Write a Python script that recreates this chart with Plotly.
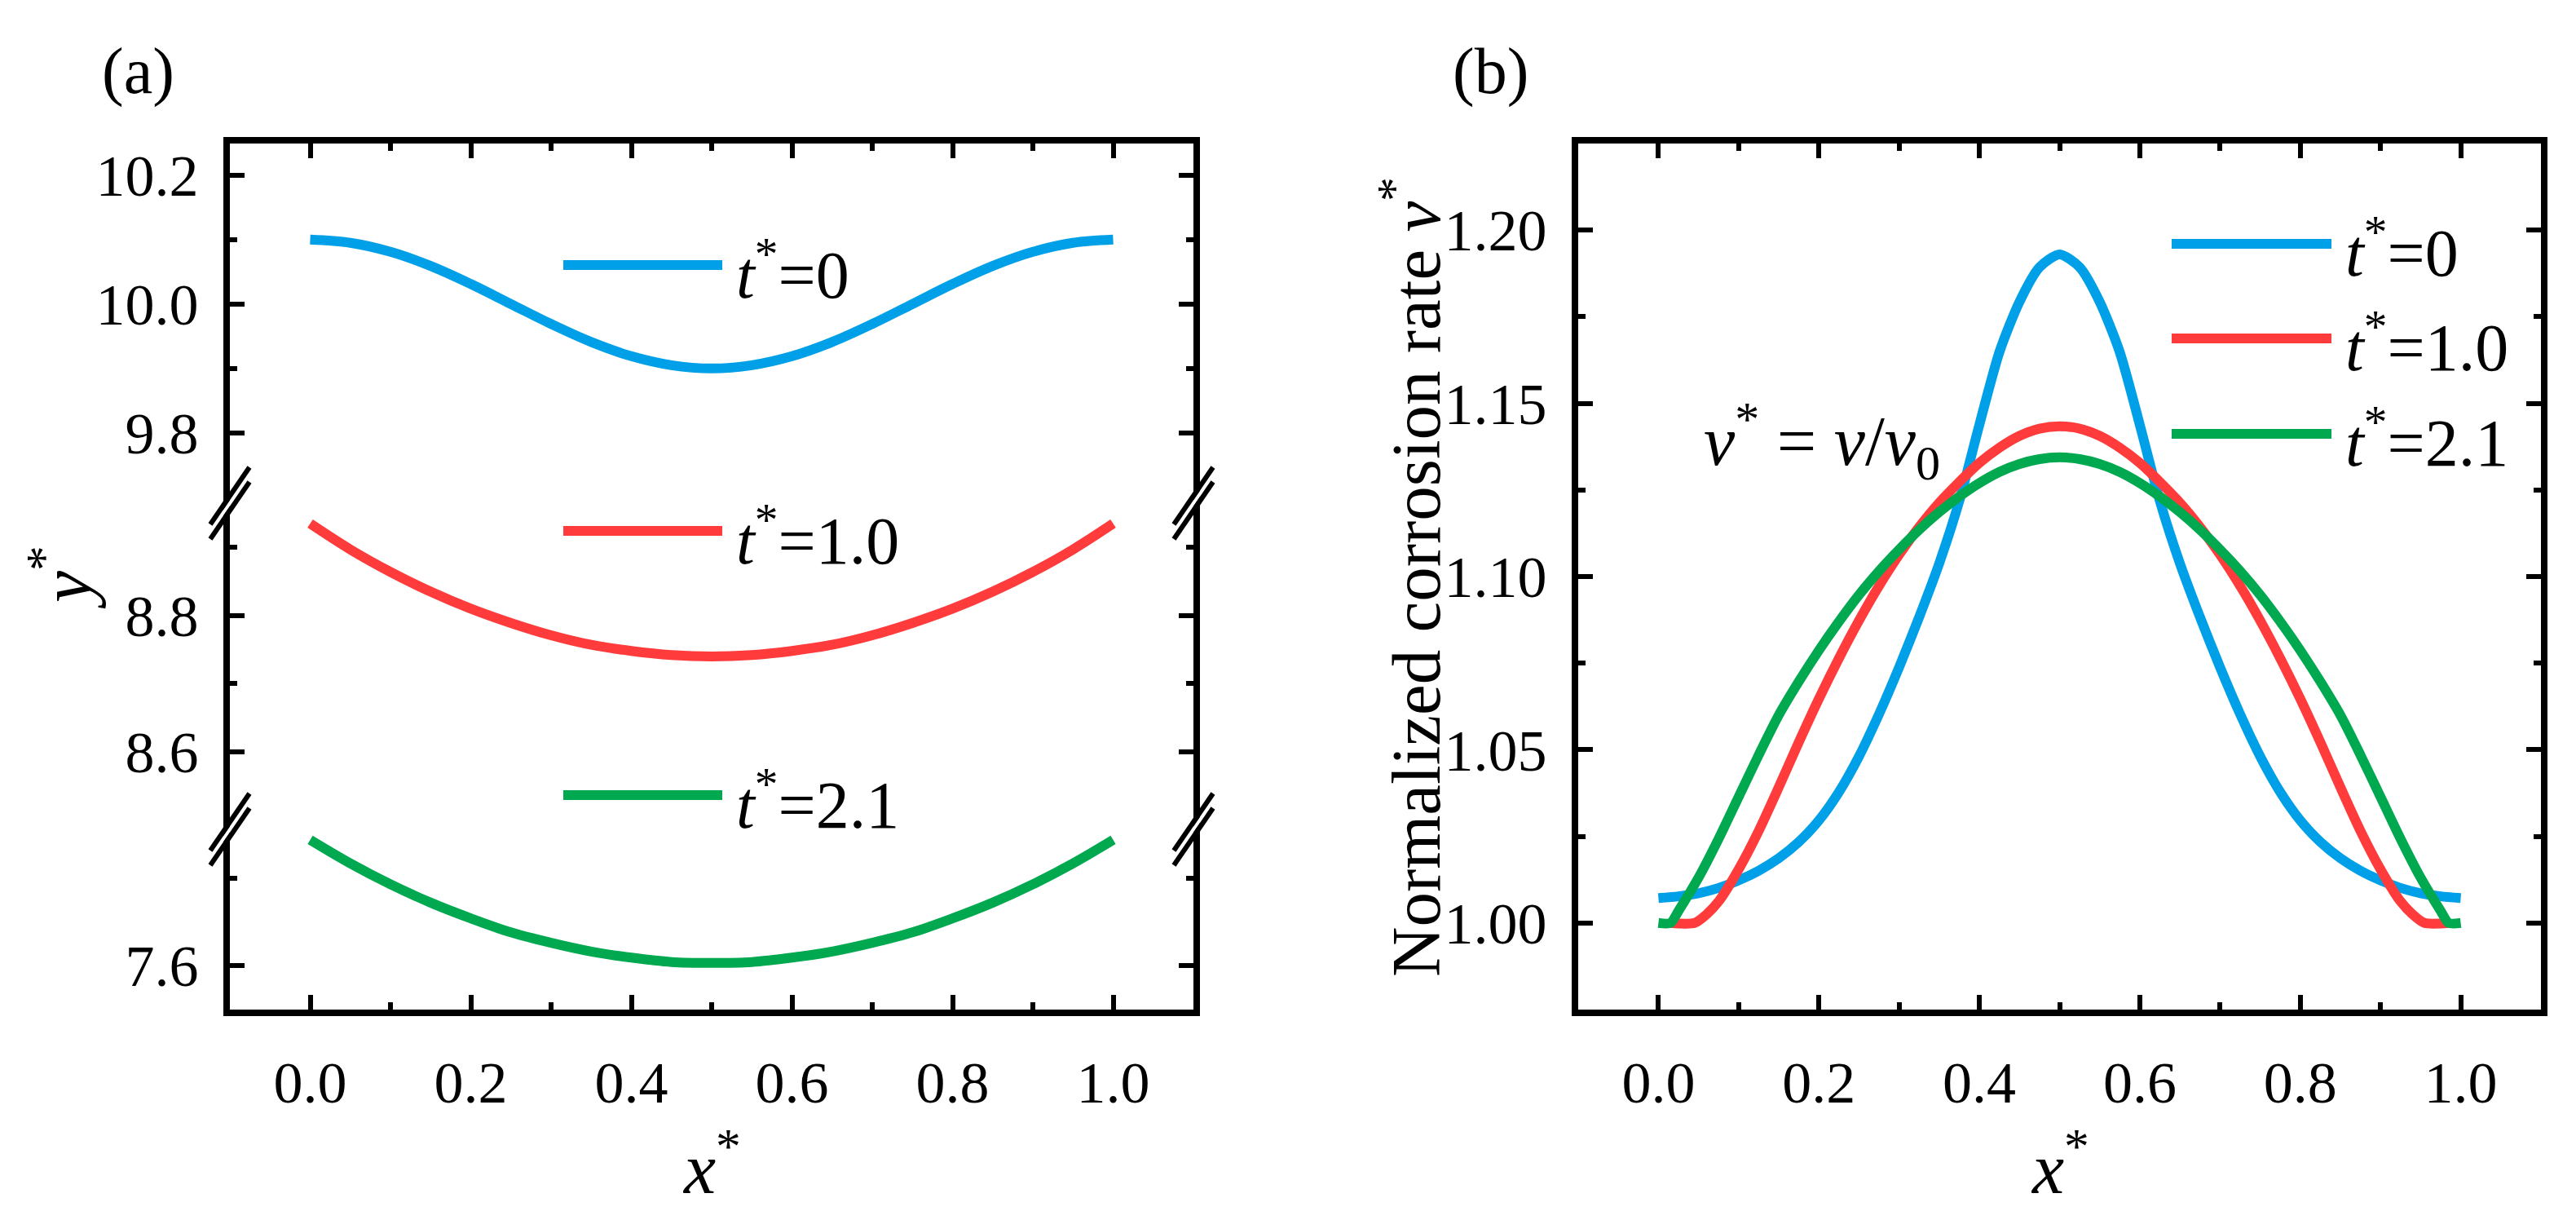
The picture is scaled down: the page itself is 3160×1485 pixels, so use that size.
import plotly.graph_objects as go

# figure size in px, everything below is placed from pixel positions
W, H = 3160, 1485

# ---------------- panel (a): surface profiles y* ----------------
x_a = [0.00, 0.05, 0.10, 0.15, 0.20, 0.25, 0.30, 0.35, 0.40, 0.45, 0.50,
       0.55, 0.60, 0.65, 0.70, 0.75, 0.80, 0.85, 0.90, 0.95, 1.00]
y_a_t0 = [10.100, 10.095, 10.081, 10.059, 10.031, 10.000, 9.969, 9.941, 9.919, 9.905, 9.900,
          9.905, 9.919, 9.941, 9.969, 10.000, 10.031, 10.059, 10.081, 10.095, 10.100]
y_a_t1 = [8.935, 8.897, 8.864, 8.835, 8.810, 8.789, 8.771, 8.757, 8.748, 8.742, 8.740,
          8.742, 8.748, 8.757, 8.771, 8.789, 8.810, 8.835, 8.864, 8.897, 8.935]
y_a_t2 = [7.744, 7.717, 7.693, 7.672, 7.654, 7.638, 7.626, 7.616, 7.609, 7.604, 7.603,
          7.604, 7.609, 7.616, 7.626, 7.638, 7.654, 7.672, 7.693, 7.717, 7.744]

# ---------------- panel (b): normalized corrosion rate v* ----------------
x_b_t0 = [0.000, 0.025, 0.050, 0.075, 0.100, 0.125, 0.150, 0.175, 0.200, 0.225, 0.250,
          0.275, 0.300, 0.325, 0.350, 0.375, 0.400, 0.425, 0.450, 0.475, 0.500,
          0.525, 0.550, 0.575, 0.600, 0.625, 0.650, 0.675, 0.700, 0.725, 0.750,
          0.775, 0.800, 0.825, 0.850, 0.875, 0.900, 0.925, 0.950, 0.975, 1.000]
v_b_t0 = [1.0072, 1.0077, 1.0086, 1.0101, 1.0123, 1.0151, 1.0187, 1.0234, 1.0296, 1.0378, 1.0481,
          1.0603, 1.0738, 1.0883, 1.1038, 1.1218, 1.1438, 1.1648, 1.1793, 1.1893, 1.1930,
          1.1893, 1.1793, 1.1648, 1.1438, 1.1218, 1.1038, 1.0883, 1.0738, 1.0603, 1.0481,
          1.0378, 1.0296, 1.0234, 1.0187, 1.0151, 1.0123, 1.0101, 1.0086, 1.0077, 1.0072]

x_b_t1 = [0.015, 0.045, 0.060, 0.075, 0.100, 0.125, 0.150, 0.175, 0.200, 0.225, 0.250,
          0.275, 0.300, 0.325, 0.350, 0.375, 0.400, 0.425, 0.450, 0.475, 0.500,
          0.525, 0.550, 0.575, 0.600, 0.625, 0.650, 0.675, 0.700, 0.725, 0.750,
          0.775, 0.800, 0.825, 0.850, 0.875, 0.900, 0.925, 0.940, 0.955, 0.985]
v_b_t1 = [1.0000, 1.0000, 1.0025, 1.0062, 1.0155, 1.0266, 1.0392, 1.0522, 1.0647, 1.0764, 1.0873,
          1.0973, 1.1063, 1.1143, 1.1213, 1.1273, 1.1328, 1.1372, 1.1406, 1.1427, 1.1434,
          1.1427, 1.1406, 1.1372, 1.1328, 1.1273, 1.1213, 1.1143, 1.1063, 1.0973, 1.0873,
          1.0764, 1.0647, 1.0522, 1.0392, 1.0266, 1.0155, 1.0062, 1.0025, 1.0000, 1.0000]

x_b_t2 = [0.000, 0.015, 0.025, 0.050, 0.075, 0.100, 0.125, 0.150, 0.175, 0.200, 0.225,
          0.250, 0.275, 0.300, 0.325, 0.350, 0.375, 0.400, 0.425, 0.450, 0.475, 0.500,
          0.525, 0.550, 0.575, 0.600, 0.625, 0.650, 0.675, 0.700, 0.725, 0.750,
          0.775, 0.800, 0.825, 0.850, 0.875, 0.900, 0.925, 0.950, 0.975, 0.985, 1.000]
v_b_t2 = [1.0000, 1.0000, 1.0035, 1.0131, 1.0243, 1.0364, 1.0485, 1.0600, 1.0697, 1.0787, 1.0870,
          1.0947, 1.1016, 1.1078, 1.1135, 1.1186, 1.1231, 1.1270, 1.1302, 1.1325, 1.1339, 1.1344,
          1.1339, 1.1325, 1.1302, 1.1270, 1.1231, 1.1186, 1.1135, 1.1078, 1.1016, 1.0947,
          1.0870, 1.0787, 1.0697, 1.0600, 1.0485, 1.0364, 1.0243, 1.0131, 1.0035, 1.0000, 1.0000]

series_names = ["<i>t</i><sup>*</sup>=0", "<i>t</i><sup>*</sup>=1.0", "<i>t</i><sup>*</sup>=2.1"]
colors = ["#00A0E9", "#FF3B3B", "#00A84F"]

# tick values
x_ticks = [0.0, 0.2, 0.4, 0.6, 0.8, 1.0]
x_minor = [0.1, 0.3, 0.5, 0.7, 0.9]
ya_top_ticks, ya_top_minor = [9.8, 10.0, 10.2], [9.9, 10.1]
ya_mid_ticks, ya_mid_minor = [8.6, 8.8], [8.7, 8.9]
ya_bot_ticks, ya_bot_minor = [7.6], [7.7]
yb_ticks = [1.00, 1.05, 1.10, 1.15, 1.20]
yb_minor = [1.025, 1.075, 1.125, 1.175]

FONT = "Liberation Serif, Tinos, Times New Roman, DejaVu Serif, serif"
LW = 12


def px(x):
    return x / W


def py(y):
    return 1 - y / H


# frame / break positions (pixels)
A_L, A_R = 274, 1456
B_L, B_R = 1928, 3109
TOP, BOT = 168, 1230
BRK1, BRK2 = 609, 1009

fig = go.Figure()

# panel (a): the top curve sits on the top x axis so that axis gets drawn
fig.add_trace(go.Scatter(x=x_a, y=y_a_t0, mode="lines", line=dict(color=colors[0], width=LW, shape="spline"),
                         xaxis="x3", yaxis="y3", showlegend=False))
fig.add_trace(go.Scatter(x=x_a, y=y_a_t1, mode="lines", line=dict(color=colors[1], width=LW, shape="spline"),
                         xaxis="x", yaxis="y4", showlegend=False))
fig.add_trace(go.Scatter(x=x_a, y=y_a_t2, mode="lines", line=dict(color=colors[2], width=LW, shape="spline"),
                         xaxis="x", yaxis="y", showlegend=False))

for xs, vs, col in ((x_b_t0, v_b_t0, colors[0]), (x_b_t1, v_b_t1, colors[1]), (x_b_t2, v_b_t2, colors[2])):
    fig.add_trace(go.Scatter(x=xs, y=vs, mode="lines",
                             line=dict(color=col, width=LW, shape="spline", smoothing=0.7),
                             xaxis="x2", yaxis="y2", showlegend=False))

tickfont = dict(family=FONT, size=72, color="black")
common = dict(showline=True, linewidth=8, linecolor="black", showgrid=False, zeroline=False,
              ticks="inside", ticklen=18, tickwidth=6, tickcolor="black", tickfont=tickfont,
              tickmode="array")


def minor(vals):
    return dict(tickmode="array", tickvals=vals, ticks="inside", ticklen=9, tickwidth=6, tickcolor="black")


XSO, YSO = 20, 16  # tick label standoff

fig.update_layout(
    width=W, height=H, autosize=False,
    margin=dict(l=0, r=0, t=0, b=0),
    paper_bgcolor="white", plot_bgcolor="rgba(0,0,0,0)",
    xaxis=dict(domain=[px(A_L), px(A_R)], anchor="y", range=[-0.1, 1.1], ticklabelstandoff=XSO,
               tickvals=x_ticks, tickformat=".1f", minor=minor(x_minor), **common),
    xaxis3=dict(domain=[px(A_L), px(A_R)], anchor="y3", overlaying="x", side="top", range=[-0.1, 1.1],
                tickvals=x_ticks, showticklabels=False, minor=minor(x_minor), **common),
    yaxis=dict(domain=[py(BOT), py(BRK2)], anchor="x", range=[7.5495, 7.756], ticklabelstandoff=YSO,
               tickvals=ya_bot_ticks, tickformat=".1f", minor=minor(ya_bot_minor), mirror="ticks", **common),
    yaxis4=dict(domain=[py(BRK2), py(BRK1)], anchor="x", range=[8.486, 8.965], ticklabelstandoff=YSO,
                tickvals=ya_mid_ticks, tickformat=".1f", minor=minor(ya_mid_minor), mirror="ticks", **common),
    yaxis3=dict(domain=[py(BRK1), py(TOP)], anchor="x3", range=[9.691, 10.249], ticklabelstandoff=YSO,
                tickvals=ya_top_ticks, tickformat=".1f", minor=minor(ya_top_minor), mirror="ticks", **common),
    xaxis2=dict(domain=[px(B_L), px(B_R)], anchor="y2", range=[-0.1, 1.1], ticklabelstandoff=XSO,
                tickvals=x_ticks, tickformat=".1f", minor=minor(x_minor), mirror="ticks", **common),
    yaxis2=dict(domain=[py(BOT), py(TOP)], anchor="x2", range=[0.975, 1.225], ticklabelstandoff=YSO,
                tickvals=yb_ticks, tickformat=".2f", minor=minor(yb_minor), mirror="ticks", **common),
)

shapes = []
# axis break marks on panel (a)
for cx in (A_L, A_R):
    for cy in (BRK1, BRK2):
        shapes.append(dict(type="line", xref="paper", yref="paper",
                           x0=px(cx - 20), y0=py(cy + 29), x1=px(cx + 20), y1=py(cy - 29),
                           line=dict(color="white", width=4)))
        for off in (-9, 9):
            shapes.append(dict(type="line", xref="paper", yref="paper",
                               x0=px(cx - 24), y0=py(cy + off + 35), x1=px(cx + 24), y1=py(cy + off - 35),
                               line=dict(color="black", width=6)))

annotations = []
# legend keys of panel (a), one beside each curve
for ky, name, col in zip((317, 643, 967), series_names, colors):
    shapes.append(dict(type="line", xref="paper", yref="paper", x0=px(683), x1=px(878), y0=py(ky), y1=py(ky),
                       line=dict(color=col, width=LW)))
    annotations.append(dict(text=name, xref="paper", yref="paper", x=px(893), y=py(ky + 6),
                            xanchor="left", yanchor="middle", showarrow=False,
                            font=dict(family=FONT, size=82, color="black")))
# legend of panel (b)
for ky, name, col in zip((291, 407, 524), series_names, colors):
    shapes.append(dict(type="line", xref="paper", yref="paper", x0=px(2656), x1=px(2852), y0=py(ky), y1=py(ky),
                       line=dict(color=col, width=LW)))
    annotations.append(dict(text=name, xref="paper", yref="paper", x=px(2867), y=py(ky + 6),
                            xanchor="left", yanchor="middle", showarrow=False,
                            font=dict(family=FONT, size=82, color="black")))

big = dict(family=FONT, size=88, color="black")
annotations += [
    dict(text="(a)", x=px(161), y=py(80), font=dict(family=FONT, size=80, color="black")),
    dict(text="(b)", x=px(1821), y=py(80), font=dict(family=FONT, size=80, color="black")),
    dict(text="<i>x</i><sup>*</sup>", x=px((A_L + A_R) / 2), y=py(1418), font=big),
    dict(text="<i>x</i><sup>*</sup>", x=px((B_L + B_R) / 2), y=py(1418), font=big),
    dict(text="<i>y</i><sup>*</sup>", x=px(66), y=py(700), textangle=-90, font=big),
    dict(text="Normalized corrosion rate <i>v</i><sup>*</sup>", x=px(1722), y=py(700), textangle=-90,
         font=dict(family=FONT, size=85, color="black")),
    dict(text="<i>v</i><sup>*</sup> = <i>v</i>/<i>v</i><sub>0</sub>", x=px(2080), y=py(532),
         xanchor="left", font=dict(family=FONT, size=86, color="black")),
]
for a in annotations:
    a.setdefault("xref", "paper")
    a.setdefault("yref", "paper")
    a.setdefault("showarrow", False)
    a.setdefault("xanchor", "center")
    a.setdefault("yanchor", "middle")

fig.update_layout(shapes=shapes, annotations=annotations)

fig.write_html("out.html")
